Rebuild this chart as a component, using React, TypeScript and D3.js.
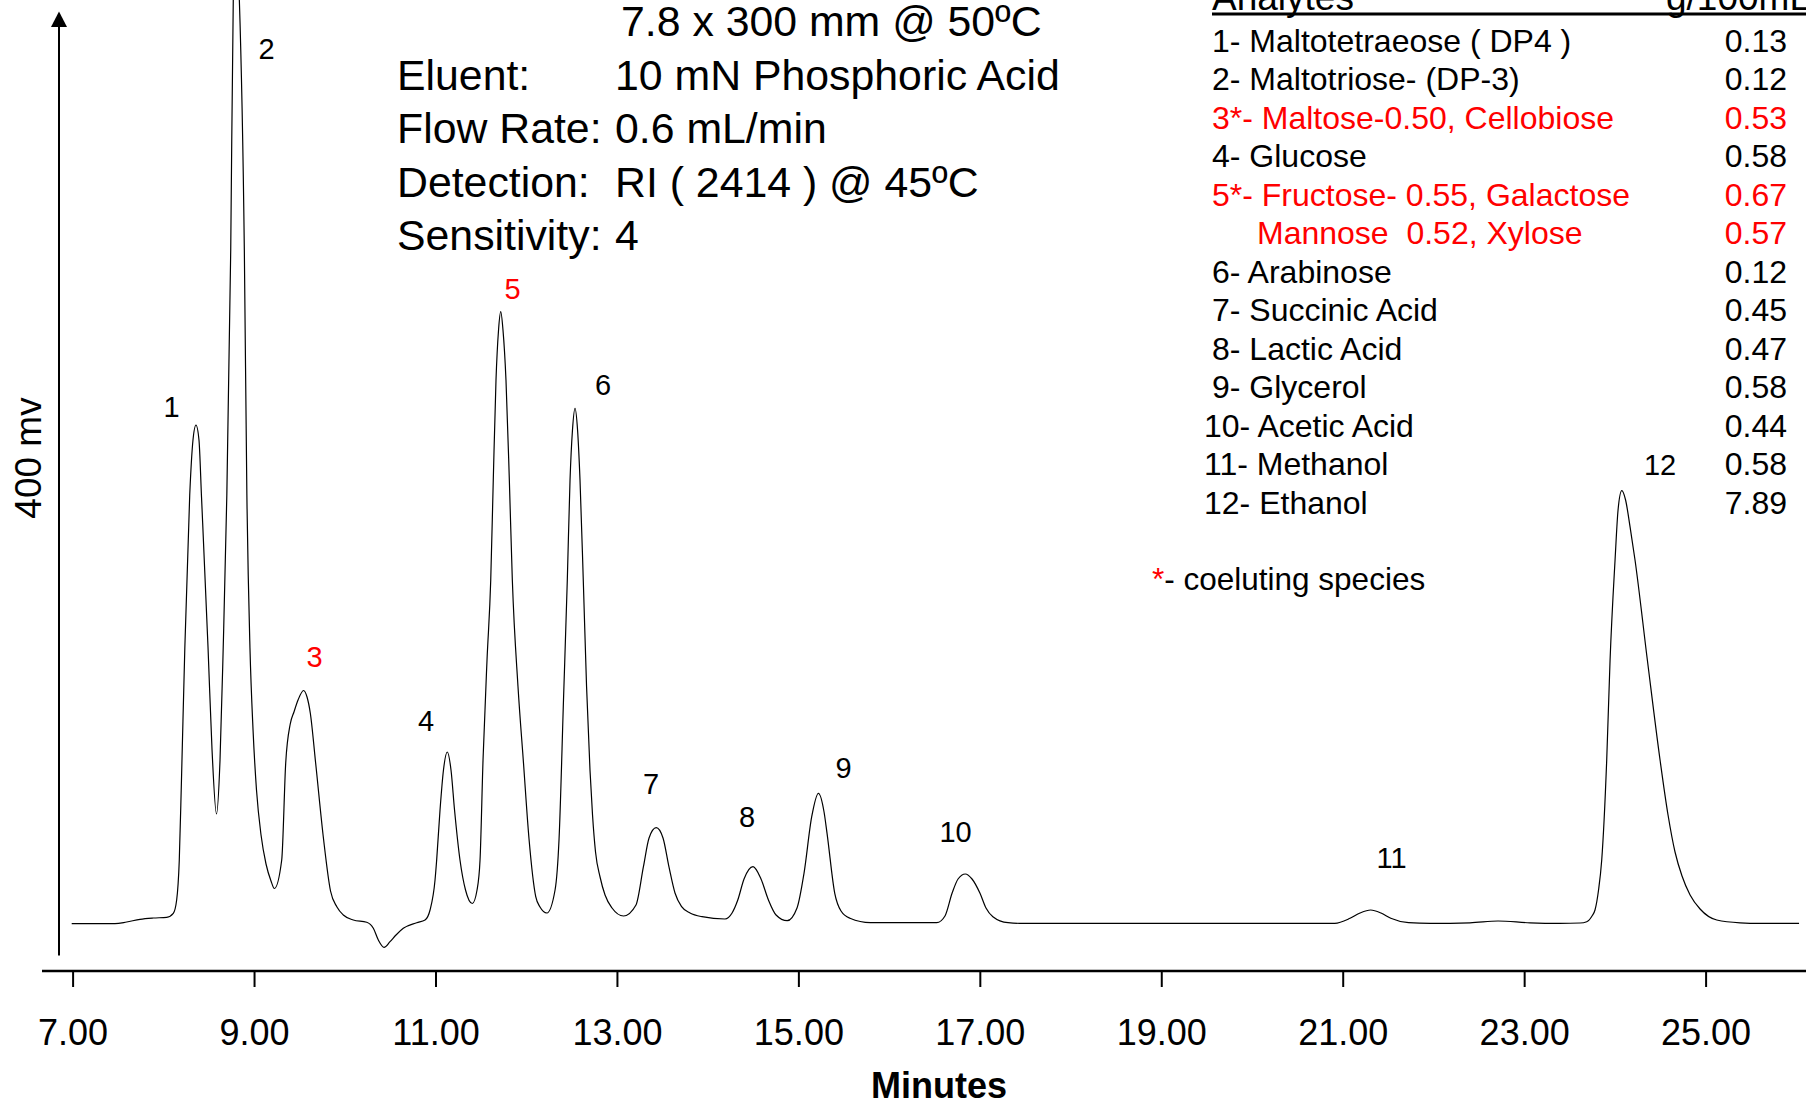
import React, { useEffect, useRef } from "react";
import * as d3 from "d3";

// detector trace: retention time (min) / signal (mV)
const minutes = [
  6.99, 7.467, 7.596, 7.743, 7.89, 8.037, 8.11, 8.147, 8.176, 8.2,
  8.237, 8.291, 8.327, 8.36, 8.393, 8.421, 8.493, 8.537, 8.586, 8.625,
  8.66, 8.7, 8.743, 8.771, 8.804, 8.838, 8.893, 8.921, 8.955, 8.989,
  9.027, 9.077, 9.132, 9.187, 9.224, 9.305, 9.349, 9.399, 9.44, 9.485,
  9.546, 9.584, 9.62, 9.679, 9.766, 9.843, 9.914, 9.984, 10.094, 10.242,
  10.315, 10.37, 10.433, 10.499, 10.565, 10.645, 10.793, 10.885, 10.94, 10.995,
  11.013, 11.05, 11.088, 11.13, 11.171, 11.21, 11.27, 11.331, 11.406, 11.458,
  11.491, 11.524, 11.568, 11.609, 11.637, 11.667, 11.695, 11.719, 11.744, 11.777,
  11.814, 11.847, 11.909, 11.97, 12.031, 12.105, 12.152, 12.228, 12.318, 12.362,
  12.411, 12.453, 12.483, 12.51, 12.538, 12.566, 12.593, 12.629, 12.665, 12.703,
  12.731, 12.764, 12.814, 12.869, 12.946, 13.073, 13.21, 13.292, 13.354, 13.433,
  13.508, 13.573, 13.64, 13.713, 13.806, 13.938, 14.191, 14.269, 14.332, 14.401,
  14.5, 14.588, 14.67, 14.754, 14.877, 14.985, 15.062, 15.147, 15.221, 15.283,
  15.316, 15.401, 15.47, 15.569, 15.794, 16.525, 16.616, 16.694, 16.76, 16.84,
  16.914, 17.002, 17.068, 17.144, 17.311, 17.443, 20.912, 21.081, 21.191, 21.308,
  21.422, 21.53, 21.726, 21.963, 22.403, 22.712, 23.065, 23.396, 23.616, 23.69,
  23.748, 23.781, 23.82, 23.855, 23.91, 23.947, 24.002, 24.035, 24.076, 24.118,
  24.167, 24.222, 24.358, 24.498, 24.586, 24.663, 24.74, 24.829, 24.939, 25.123,
  25.38, 25.6, 26.03,
];
const signal = [
  -0.1, -0.1, 0.75, 2.1, 2.75, 3.1, 5.1, 11.75, 31.75, 71.75,
  137.75, 214.25, 241.75, 249.25, 241.75, 213.25, 137.75, 86.75, 54.75, 81.75,
  137.75, 214.25, 336.75, 461.75, 491.75, 461.75, 336.75, 214.25, 137.75, 96.75,
  66.75, 44.25, 29.75, 21.25, 17.5, 31.75, 80.25, 99.75, 105.75, 111.75,
  116.5, 113.25, 105.25, 80.25, 42.25, 16.25, 8.25, 4.25, 1.75, 0.6,
  -2.4, -8.25, -11.9, -9.1, -5.75, -2.4, 0.4, 1.75, 6.75, 21.75,
  31.75, 56.75, 76.75, 85.75, 76.75, 56.75, 31.75, 16.75, 10, 16.75,
  31.75, 81.75, 131.75, 171.75, 221.75, 271.75, 296.75, 305.9, 296.75, 271.75,
  221.75, 171.75, 118.75, 80.25, 42.25, 13.45, 8.25, 5.25, 16.75, 42.25,
  111.75, 171.75, 221.75, 246.75, 257.6, 246.75, 221.75, 171.75, 118.75, 76.75,
  54.25, 35.75, 23.25, 14.25, 7.75, 3.75, 9.25, 28.4, 42.75, 47.9,
  42.75, 28.4, 15.25, 8.4, 5.25, 3.4, 2.25, 5.25, 11.75, 22.25,
  28.4, 22.25, 11.75, 4.25, 1.4, 7.75, 25.1, 53.4, 65.1, 55.75,
  45.1, 15.1, 6.25, 2.6, 0.4, 0.4, 3.75, 15.1, 22.25, 24.75,
  22.25, 15.1, 7.75, 3.4, 0.4, 0.1, 0.1, 2.6, 5.25, 6.75,
  5.25, 2.6, 0.4, 0.1, 0.35, 1.25, 0.35, 0.1, 0.25, 0.9,
  3.75, 6.75, 16.75, 31.75, 81.75, 131.75, 181.75, 206.75, 216.4, 211.75,
  198.4, 181.75, 131.75, 81.75, 54.25, 35.75, 23.75, 14.25, 7.25, 1.75,
  0.35, 0.1, 0.1,
];

// peak numbers and where their labels sit (min, mV)
const peakIds = ["1", "2", "3", "4", "5", "6", "7", "8", "9", "10", "11", "12"];
const peakLabelMinutes = [8.09, 9.137, 9.666, 10.895, 11.849, 12.846, 13.376, 14.434, 15.498, 16.732, 21.538, 24.498];
const peakLabelMv = [253.25, 432.5, 128.25, 96.4, 312.5, 264.25, 64.75, 48.5, 72.75, 40.75, 28, 224.25];
const coelutingPeaks = ["3", "5"];

const xTicks = [7, 9, 11, 13, 15, 17, 19, 21, 23, 25];

const conditionNames = ["", "Eluent:", "Flow Rate:", "Detection:", "Sensitivity:"];
const conditionValues = ["7.8 x 300 mm @ 50ºC", "10 mN Phosphoric Acid", "0.6 mL/min", "RI ( 2414 ) @ 45ºC", "4"];

const analytes = [
  "1- Maltotetraeose ( DP4 )",
  "2- Maltotriose- (DP-3)",
  "3*- Maltose-0.50, Cellobiose",
  "4- Glucose",
  "5*- Fructose- 0.55, Galactose",
  "Mannose  0.52, Xylose",
  "6- Arabinose",
  "7- Succinic Acid",
  "8- Lactic Acid",
  "9- Glycerol",
  "10- Acetic Acid",
  "11- Methanol",
  "12- Ethanol",
];
const amounts = [0.13, 0.12, 0.53, 0.58, 0.67, 0.57, 0.12, 0.45, 0.47, 0.58, 0.44, 0.58, 7.89];
const coelutingRows = [2, 4, 5];

const W = 1806;
const H = 1101;
const FONT = "'Liberation Sans', Arial, Helvetica, sans-serif";
const RED = "#ff0000";

export default function App() {
  const svgRef = useRef<SVGSVGElement>(null);

  useEffect(() => {
    const svg = d3.select(svgRef.current);
    svg.selectAll("*").remove();

    const x = d3.scaleLinear().domain([7, 25]).range([72.6, 1705.6]);
    const y = d3.scaleLinear().domain([-16, 455]).range([955.5, 13.5]);

    // x axis
    const xAxis = svg.append("g").attr("transform", "translate(0,971)");
    xAxis.call(
      d3.axisBottom(x).tickValues(xTicks).tickFormat(d3.format(".2f")).tickSize(16).tickPadding(32)
    );
    xAxis.select(".domain").remove();
    xAxis.selectAll("line").attr("stroke", "#000").attr("stroke-width", 2);
    xAxis.selectAll("text")
      .attr("font-family", FONT)
      .attr("font-size", 36)
      .attr("fill", "#000");
    xAxis.attr("font-family", null).attr("font-size", null);
    svg.append("line")
      .attr("x1", 42).attr("x2", W)
      .attr("y1", 971).attr("y2", 971)
      .attr("stroke", "#000").attr("stroke-width", 2.6);

    svg.append("text")
      .attr("x", 939).attr("y", 1098)
      .attr("text-anchor", "middle")
      .attr("font-family", FONT).attr("font-size", 36).attr("font-weight", "bold")
      .text("Minutes");

    // y axis with arrow
    const yTop = y.range()[1];
    svg.append("line")
      .attr("x1", 59).attr("x2", 59)
      .attr("y1", y.range()[0]).attr("y2", yTop + 6)
      .attr("stroke", "#000").attr("stroke-width", 2);
    svg.append("path")
      .attr("d", `M59,${yTop - 2}L67,${yTop + 13.5}L51,${yTop + 13.5}Z`)
      .attr("fill", "#000");
    svg.append("text")
      .attr("transform", "translate(41,458) rotate(-90)")
      .attr("text-anchor", "middle")
      .attr("font-family", FONT).attr("font-size", 37)
      .text("400 mv");

    // trace
    const line = d3.line<number>()
      .x((_, i) => x(minutes[i]))
      .y((d) => y(d))
      .curve(d3.curveMonotoneX);
    svg.append("path")
      .datum(signal)
      .attr("d", line)
      .attr("fill", "none")
      .attr("stroke", "#000")
      .attr("stroke-width", 1.2);

    // peak numbers
    svg.append("g")
      .selectAll("text")
      .data(peakIds)
      .join("text")
      .attr("x", (_, i) => x(peakLabelMinutes[i]))
      .attr("y", (_, i) => y(peakLabelMv[i]))
      .attr("text-anchor", "middle")
      .attr("font-family", FONT).attr("font-size", 29)
      .attr("fill", (d) => (coelutingPeaks.includes(d) ? RED : "#000"))
      .text((d) => d);

    // run conditions
    const cond = svg.append("g").attr("font-family", FONT).attr("font-size", 42.8);
    conditionNames.forEach((name, i) => {
      const base = 36 + 53.6 * i;
      if (name) cond.append("text").attr("x", 397).attr("y", base).text(name);
      cond.append("text").attr("x", i === 0 ? 621 : 615).attr("y", base).text(conditionValues[i]);
    });

    // analyte table
    const table = svg.append("g").attr("font-family", FONT);
    table.append("text").attr("x", 1212).attr("y", 9.5).attr("font-size", 37).text("Analytes");
    table.append("text").attr("x", 1666).attr("y", 9.5).attr("font-size", 37).text("g/100mL");
    table.append("line")
      .attr("x1", 1212).attr("x2", W)
      .attr("y1", 14).attr("y2", 14)
      .attr("stroke", "#000").attr("stroke-width", 3);

    const fmt = d3.format(".2f");
    analytes.forEach((name, i) => {
      const base = 51.7 + 38.5 * i;
      const color = coelutingRows.includes(i) ? RED : "#000";
      const indent = /^\d\d-/.test(name) ? 1204 : /^\d/.test(name) ? 1212 : 1257;
      table.append("text")
        .attr("x", indent).attr("y", base)
        .attr("font-size", 32).attr("fill", color)
        .attr("xml:space", "preserve")
        .style("white-space", "pre")
        .text(name);
      table.append("text")
        .attr("x", 1787).attr("y", base)
        .attr("text-anchor", "end")
        .attr("font-size", 32).attr("fill", color)
        .text(fmt(amounts[i]));
    });

    const note = table.append("text").attr("x", 1152).attr("y", 590).attr("font-size", 31.5);
    note.append("tspan").attr("fill", RED).text("*");
    note.append("tspan").attr("fill", "#000").text("- coeluting species");
  }, []);

  return (
    <svg
      ref={svgRef}
      width={W}
      height={H}
      style={{ position: "absolute", left: 0, top: 0, background: "#fff", display: "block" }}
    />
  );
}
